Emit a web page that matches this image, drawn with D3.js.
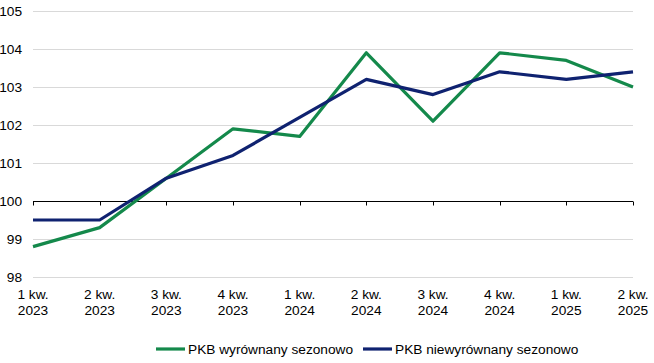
<!DOCTYPE html>
<html lang="pl">
<head>
  <meta charset="UTF-8">
  <title>PKB</title>
  <script src="https://d3js.org/d3.v7.min.js"></script>
  <style>
    body { margin: 0; background: #fff; }
    text { font-family: "Liberation Sans", Arial, sans-serif; font-size: 13.7px; fill: #000; }
  </style>
</head>
<body>
  <div id="chart"></div>
  <script>
    // data
    const quarters = ["1 kw.", "2 kw.", "3 kw.", "4 kw.", "1 kw.", "2 kw.", "3 kw.", "4 kw.", "1 kw.", "2 kw."];
    const years = ["2023", "2023", "2023", "2023", "2024", "2024", "2024", "2024", "2025", "2025"];
    const seasonallyAdjusted = [98.8, 99.3, 100.6, 101.9, 101.7, 103.9, 102.1, 103.9, 103.7, 103.0];
    const notAdjusted = [99.5, 99.5, 100.6, 101.2, 102.2, 103.2, 102.8, 103.4, 103.2, 103.4];
    const yTicks = [98, 99, 100, 101, 102, 103, 104, 105];
    const seriesNames = ["PKB wyrównany sezonowo", "PKB niewyrównany sezonowo"];

    const width = 654, height = 363;
    const green = "#14894b", navy = "#0f2270";

    const svg = d3.select("#chart").append("svg")
      .attr("width", width).attr("height", height);

    const idx = d3.range(quarters.length);
    const x = d3.scalePoint().domain(idx).range([33, 633]);
    const y = d3.scaleLinear().domain([98, 105]).range([277, 11]);

    // gridlines
    svg.append("g")
      .selectAll("line")
      .data(yTicks.filter(d => d !== 100))
      .join("line")
      .attr("x1", 33).attr("x2", 633)
      .attr("y1", d => Math.round(y(d)) + 0.5).attr("y2", d => Math.round(y(d)) + 0.5)
      .attr("stroke", "#d9d9d9").attr("stroke-width", 1);

    // y labels
    svg.append("g")
      .selectAll("text")
      .data(yTicks)
      .join("text")
      .attr("x", 22).attr("y", d => y(d) + 5)
      .attr("text-anchor", "end")
      .text(d => d);

    // x axis line at 100 with ticks
    const y100 = Math.round(y(100)) + 0.5;
    svg.append("line")
      .attr("x1", 33).attr("x2", 633)
      .attr("y1", y100).attr("y2", y100)
      .attr("stroke", "#000").attr("stroke-width", 1);
    svg.append("g")
      .selectAll("line")
      .data(idx)
      .join("line")
      .attr("x1", d => Math.round(x(d)) + 0.5).attr("x2", d => Math.round(x(d)) + 0.5)
      .attr("y1", y100).attr("y2", y100 + 4)
      .attr("stroke", "#000");

    // x labels
    const xl = svg.append("g")
      .selectAll("text")
      .data(idx)
      .join("text")
      .attr("text-anchor", "middle");
    xl.append("tspan").attr("x", d => x(d)).attr("y", 299).text(d => quarters[d]);
    xl.append("tspan").attr("x", d => x(d)).attr("y", 315).text(d => years[d]);

    // lines
    const line = d3.line().x((d, i) => x(i)).y(d => y(d));
    [[seasonallyAdjusted, green], [notAdjusted, navy]].forEach(([vals, col]) => {
      svg.append("path")
        .datum(vals)
        .attr("d", line)
        .attr("fill", "none")
        .attr("stroke", col)
        .attr("stroke-width", 3.2)
        .attr("stroke-linejoin", "round");
    });

    // legend
    const legend = [[seriesNames[0], green, 156], [seriesNames[1], navy, 363]];
    legend.forEach(([name, col, lx]) => {
      svg.append("line")
        .attr("x1", lx).attr("x2", lx + 29)
        .attr("y1", 349).attr("y2", 349)
        .attr("stroke", col).attr("stroke-width", 3.2);
      svg.append("text")
        .attr("x", lx + 32).attr("y", 354)
        .text(name);
    });
  </script>
</body>
</html>
